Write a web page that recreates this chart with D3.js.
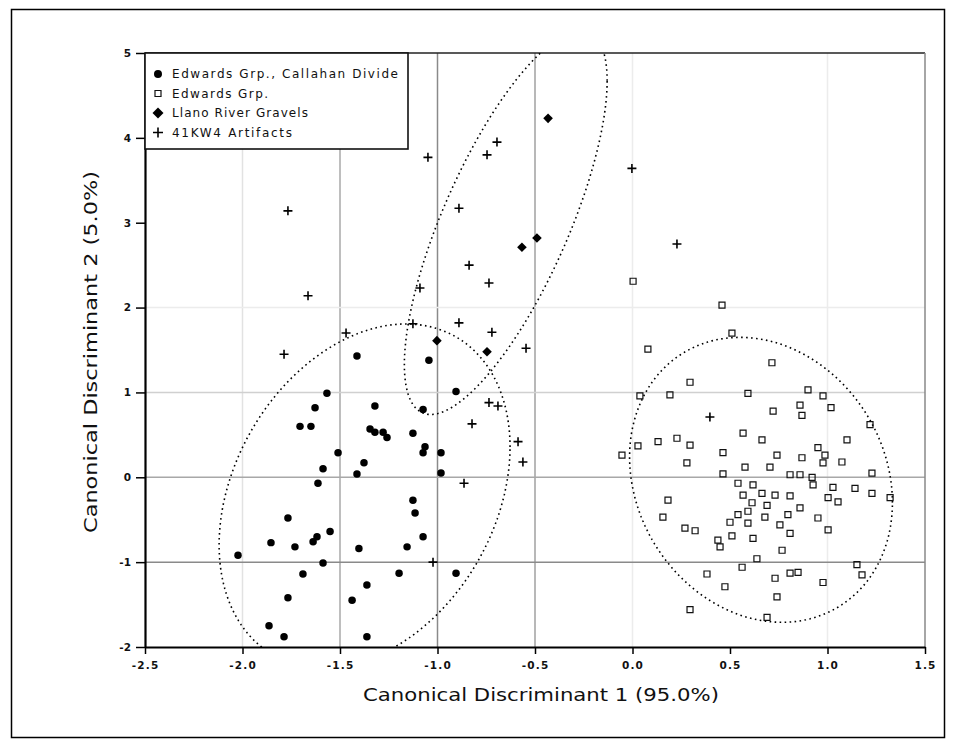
<!DOCTYPE html>
<html>
<head>
<meta charset="utf-8">
<script src="https://cdn.jsdelivr.net/npm/d3@7/dist/d3.min.js"></script>
<style>
  html, body { margin: 0; padding: 0; background: #fff; }
  svg { display: block; }
</style>
</head>
<body>
<svg id="chart" width="956" height="743"></svg>
<script>
// ---------------- DATA ----------------
const xTickValues = [-2.5, -2.0, -1.5, -1.0, -0.5, 0.0, 0.5, 1.0, 1.5];
const xTickLabels = ["-2.5", "-2.0", "-1.5", "-1.0", "-0.5", "0.0", "0.5", "1.0", "1.5"];
const yTickValues = [5, 4, 3, 2, 1, 0, -1, -2];
const yTickLabels = ["5", "4", "3", "2", "1", "0", "-1", "-2"];
const xGridValues = [-2.0, -1.5, -1.0, -0.5, 0.0, 1.0];
const yGridValues = [2, 1, 0, -1];

const seriesNames = ["Edwards Grp., Callahan Divide", "Edwards Grp.", "Llano River Gravels", "41KW4 Artifacts"];

// Edwards Grp., Callahan Divide (filled circles)
const callahan = [
  [-1.413, 1.43], [-1.044, 1.38], [-0.905, 1.01], [-1.567, 0.99], [-1.628, 0.82],
  [-1.321, 0.84], [-1.074, 0.80], [-1.705, 0.60], [-1.649, 0.60], [-1.346, 0.57],
  [-1.321, 0.53], [-1.279, 0.53], [-1.259, 0.47], [-1.126, 0.52], [-1.064, 0.36],
  [-1.074, 0.29], [-0.982, 0.29], [-1.510, 0.29], [-1.377, 0.17], [-1.587, 0.10],
  [-1.413, 0.04], [-1.613, -0.07], [-0.982, 0.05], [-1.126, -0.27], [-1.115, -0.42],
  [-1.074, -0.70], [-1.156, -0.82], [-1.403, -0.84], [-1.551, -0.64], [-1.618, -0.70],
  [-1.638, -0.76], [-1.731, -0.82], [-1.767, -0.48], [-1.854, -0.77], [-2.023, -0.92],
  [-1.587, -1.01], [-1.690, -1.14], [-1.197, -1.13], [-0.905, -1.13], [-1.362, -1.27],
  [-1.438, -1.45], [-1.767, -1.42], [-1.864, -1.75], [-1.787, -1.88], [-1.362, -1.88]
];

// Edwards Grp. (open squares)
const edwards = [
  [0.003, 2.31], [0.459, 2.03], [0.079, 1.51], [0.510, 1.70], [0.715, 1.35],
  [0.295, 1.12], [0.192, 0.97], [0.038, 0.96], [0.592, 0.99], [0.900, 1.03],
  [0.977, 0.96], [0.859, 0.85], [0.869, 0.73], [1.018, 0.82], [0.721, 0.78],
  [1.218, 0.62], [0.567, 0.52], [0.664, 0.44], [1.100, 0.44], [0.131, 0.42],
  [0.228, 0.46], [0.295, 0.38], [0.028, 0.37], [-0.054, 0.26], [0.464, 0.29],
  [0.741, 0.26], [0.869, 0.23], [0.951, 0.35], [0.987, 0.26], [0.977, 0.17],
  [1.074, 0.18], [0.279, 0.17], [0.577, 0.12], [0.705, 0.12], [0.464, 0.04],
  [0.808, 0.03], [0.859, 0.03], [0.921, 0.00], [1.228, 0.05], [0.541, -0.07],
  [0.618, -0.09], [0.926, -0.09], [1.028, -0.12], [1.141, -0.13], [1.228, -0.19],
  [1.321, -0.24], [0.567, -0.21], [0.664, -0.19], [0.731, -0.21], [0.808, -0.22],
  [1.003, -0.24], [1.054, -0.29], [0.182, -0.27], [0.613, -0.30], [0.690, -0.33],
  [0.859, -0.36], [0.592, -0.40], [0.541, -0.44], [0.679, -0.47], [0.797, -0.44],
  [0.951, -0.48], [0.156, -0.47], [0.500, -0.53], [0.592, -0.54], [0.756, -0.56],
  [1.003, -0.62], [0.808, -0.66], [0.269, -0.60], [0.321, -0.63], [0.510, -0.69],
  [0.618, -0.72], [0.438, -0.74], [0.449, -0.82], [0.767, -0.86], [0.638, -0.96],
  [0.562, -1.06], [0.808, -1.13], [0.849, -1.12], [0.382, -1.14], [1.151, -1.03],
  [1.177, -1.15], [0.731, -1.19], [0.474, -1.29], [0.977, -1.24], [0.741, -1.41],
  [0.295, -1.56], [0.690, -1.65]
];

// Llano River Gravels (filled diamonds)
const llano = [
  [-0.433, 4.23], [-0.567, 2.71], [-0.490, 2.82], [-0.746, 1.48], [-1.003, 1.61]
];

// Artifacts (plus)
const artifacts = [
  [-1.767, 3.14], [-1.664, 2.14], [-1.787, 1.45], [-1.469, 1.70], [-1.126, 1.81],
  [-1.090, 2.23], [-1.049, 3.77], [-0.746, 3.80], [-0.695, 3.95], [-0.890, 3.17],
  [-0.838, 2.50], [-0.736, 2.29], [-0.890, 1.82], [-0.721, 1.71], [-0.546, 1.52],
  [-0.736, 0.88], [-0.690, 0.84], [-0.823, 0.63], [-0.587, 0.42], [-0.562, 0.18],
  [-0.864, -0.07], [-0.003, 3.64], [0.228, 2.75], [0.397, 0.71], [-1.023, -1.00]
];

// Group ellipses: centre x, centre y, half-extent x, half-extent y, correlation
const ellipseCx  = [-1.374, 0.659, -0.650];
const ellipseCy  = [-0.22, -0.03, 3.00];
const ellipseRx  = [0.746, 0.674, 0.52];
const ellipseRy  = [2.027, 1.679, 2.26];
const ellipseRho = [0.285, -0.16, 0.74];

// ---------------- LAYOUT ----------------
const svg = d3.select("#chart");
const plot = { left: 145, right: 925, top: 53, bottom: 647 };

const x = d3.scaleLinear().domain([-2.5, 1.5]).range([plot.left, plot.right]);
const y = d3.scaleLinear().domain([-2, 5]).range([plot.bottom, plot.top]);

const FONT = "'DejaVu Sans', 'Liberation Sans', sans-serif";

// outer frame
svg.append("rect").attr("x", 11.5).attr("y", 9.5).attr("width", 933).attr("height", 728)
  .attr("fill", "#fff").attr("stroke", "#000").attr("stroke-width", 1.5);

// clip
svg.append("defs").append("clipPath").attr("id", "plotClip")
  .append("rect").attr("x", plot.left).attr("y", plot.top)
  .attr("width", plot.right - plot.left).attr("height", plot.bottom - plot.top);

// gridlines (shades mimic reference)
const xGridShade = { "-2": "#e2e2e2", "-1.5": "#a8a8a8", "-1": "#8a8a8a", "-0.5": "#a0a0a0", "0": "#ececec", "1": "#ececec" };
const yGridShade = { "2": "#ececec", "1": "#d0d0d0", "0": "#a8a8a8", "-1": "#8a8a8a" };

const grid = svg.append("g");
grid.selectAll(".gx").data(xGridValues).join("line")
  .attr("x1", d => x(d)).attr("x2", d => x(d))
  .attr("y1", plot.top).attr("y2", plot.bottom)
  .attr("stroke", d => xGridShade[String(d)] || "#ddd").attr("stroke-width", 1.5);
grid.selectAll(".gy").data(yGridValues).join("line")
  .attr("x1", plot.left).attr("x2", plot.right)
  .attr("y1", d => y(d)).attr("y2", d => y(d))
  .attr("stroke", d => yGridShade[String(d)] || "#ddd").attr("stroke-width", 1.5);

// plot frame: top and right
svg.append("line").attr("x1", plot.left).attr("x2", plot.right).attr("y1", plot.top).attr("y2", plot.top)
  .attr("stroke", "#222").attr("stroke-width", 1.5);
svg.append("line").attr("x1", plot.right).attr("x2", plot.right).attr("y1", plot.top).attr("y2", plot.bottom)
  .attr("stroke", "#888").attr("stroke-width", 1.5);

// axes
const xAxis = d3.axisBottom(x).tickValues(xTickValues)
  .tickFormat((d, i) => xTickLabels[i]).tickSize(7).tickSizeOuter(0);
const gx = svg.append("g").attr("transform", `translate(0,${plot.bottom})`).call(xAxis);
gx.select(".domain").attr("stroke", "#000").attr("stroke-width", 2.2);
gx.selectAll(".tick line").attr("stroke", "#000").attr("stroke-width", 1.5);
gx.selectAll(".tick text").attr("font-family", FONT).attr("font-size", 10.5)
  .attr("font-weight", "bold").attr("letter-spacing", "1.2px").attr("fill", "#111").attr("dy", "1.1em");

const yAxis = d3.axisLeft(y).tickValues(yTickValues)
  .tickFormat((d, i) => yTickLabels[i]).tickSize(9).tickSizeOuter(0);
const gy = svg.append("g").attr("transform", `translate(${plot.left},0)`).call(yAxis);
gy.select(".domain").attr("stroke", "#000").attr("stroke-width", 2.2);
gy.selectAll(".tick line").attr("stroke", "#000").attr("stroke-width", 1.5);
gy.selectAll(".tick text").attr("font-family", FONT).attr("font-size", 10.5)
  .attr("font-weight", "bold").attr("fill", "#111").attr("x", -14);

// axis titles
svg.append("text").attr("x", (plot.left + plot.right) / 2 + 6).attr("y", 701)
  .attr("text-anchor", "middle").attr("font-family", FONT).attr("font-size", 18.5)
  .attr("fill", "#111").attr("textLength", 356).attr("lengthAdjust", "spacingAndGlyphs")
  .text("Canonical Discriminant 1 (95.0%)");
svg.append("text").attr("transform", "translate(97,352) rotate(-90)")
  .attr("text-anchor", "middle").attr("font-family", FONT).attr("font-size", 18.5)
  .attr("fill", "#111").attr("textLength", 362).attr("lengthAdjust", "spacingAndGlyphs")
  .text("Canonical Discriminant 2 (5.0%)");

// ellipses
const plotG = svg.append("g").attr("clip-path", "url(#plotClip)");
const tSteps = d3.range(0, 361, 2).map(d => d * Math.PI / 180);
const ellipseLine = d3.line().x(p => x(p[0])).y(p => y(p[1]));
ellipseCx.forEach((cx, i) => {
  const rx = ellipseRx[i], ry = ellipseRy[i], rho = ellipseRho[i], cy = ellipseCy[i];
  const pts = tSteps.map(t => [cx + rx * Math.cos(t),
    cy + ry * (rho * Math.cos(t) + Math.sqrt(1 - rho * rho) * Math.sin(t))]);
  plotG.append("path").attr("d", ellipseLine(pts)).attr("fill", "none")
    .attr("stroke", "#000").attr("stroke-width", 1.6).attr("stroke-dasharray", "1.6,3.4");
});

// points
const sym = (type, size) => d3.symbol().type(type).size(size)();
const diamondPath = r => `M0,${-r}L${r},0L0,${r}L${-r},0Z`;
plotG.selectAll(".sq").data(edwards).join("path")
  .attr("transform", d => `translate(${x(d[0])},${y(d[1])})`)
  .attr("d", sym(d3.symbolSquare, 36))
  .attr("fill", "none").attr("stroke", "#111").attr("stroke-width", 1.2);
plotG.selectAll(".ci").data(callahan).join("path")
  .attr("transform", d => `translate(${x(d[0])},${y(d[1])})`)
  .attr("d", sym(d3.symbolCircle, 44)).attr("fill", "#000");
plotG.selectAll(".di").data(llano).join("path")
  .attr("transform", d => `translate(${x(d[0])},${y(d[1])})`)
  .attr("d", diamondPath(4.8)).attr("fill", "#000");
plotG.selectAll(".pl").data(artifacts).join("path")
  .attr("transform", d => `translate(${x(d[0])},${y(d[1])})`)
  .attr("d", "M-4.5,0H4.5M0,-4.5V4.5")
  .attr("fill", "none").attr("stroke", "#000").attr("stroke-width", 1.6);

// legend
const legend = svg.append("g");
legend.append("rect").attr("x", plot.left).attr("y", plot.top).attr("width", 263).attr("height", 96)
  .attr("fill", "#fff").attr("stroke", "#111").attr("stroke-width", 1.6);
const rowY = [74, 93.5, 113, 132.5];
const textLen = [226, 96, 136, 120];
seriesNames.forEach((name, i) => {
  const g = legend.append("g").attr("transform", `translate(158,${rowY[i]})`);
  if (i === 0) g.append("path").attr("d", sym(d3.symbolCircle, 50)).attr("fill", "#000");
  if (i === 1) g.append("path").attr("d", sym(d3.symbolSquare, 36)).attr("fill", "none").attr("stroke", "#111").attr("stroke-width", 1.2);
  if (i === 2) g.append("path").attr("d", diamondPath(5.5)).attr("fill", "#000");
  if (i === 3) g.append("path").attr("d", "M-5,0H5M0,-5V5").attr("stroke", "#000").attr("stroke-width", 1.6);
  g.append("text").attr("x", 14).attr("y", 0).attr("dy", "0.36em")
    .attr("font-family", FONT).attr("font-size", 12).attr("fill", "#111")
    .attr("textLength", textLen[i]).attr("lengthAdjust", "spacing").text(name);
});
</script>
</body>
</html>
